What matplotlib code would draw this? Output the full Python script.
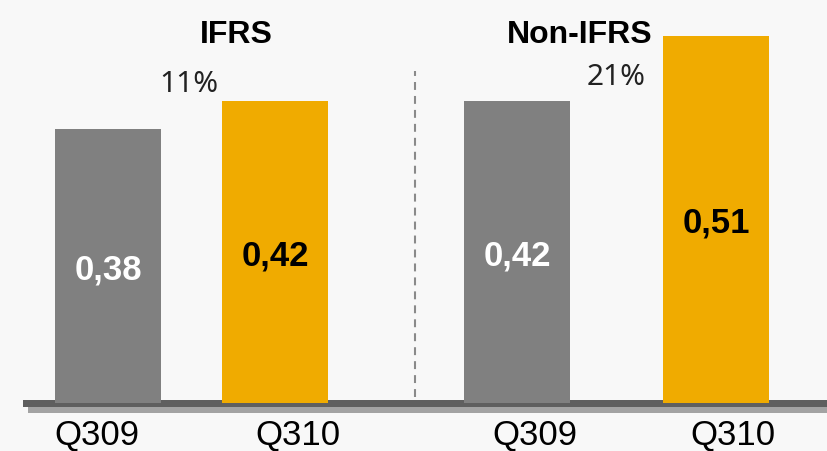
import matplotlib
matplotlib.use('Agg')
import matplotlib.pyplot as plt
import matplotlib.transforms as mtransforms
from matplotlib.patches import Rectangle

# data
groups = ['IFRS', 'Non-IFRS']
quarters = ['Q309', 'Q310', 'Q309', 'Q310']
eps = [0.38, 0.42, 0.42, 0.51]
growth = ['11%', '21%']

# layout (pixel-like x units)
bar_x = [108, 275, 517, 716]
bar_w = 106
tick_x = [97, 298, 535, 733]
group_x = [236, 580]
growth_pos = [(189, 92), (616, 85)]

bg = '#f8f8f8'
colors = ['#808080', '#f0ab00', '#808080', '#f0ab00']
label_colors = ['white', 'black', 'white', 'black']

W, H = 828, 452
fig = plt.figure(figsize=(W / 100, H / 100), dpi=100, facecolor=bg)
ax = fig.add_axes([0, 0, 1, 1])
ax.set_facecolor(bg)
ax.set_axis_off()

px_per_unit = 720
base_px = 48  # bar bottom, pixels from bottom
ax.set_xlim(0, W)
ax.set_ylim(-base_px / px_per_unit, (H - base_px) / px_per_unit)

# base line with shadow
ax.add_patch(Rectangle((28 / W, 38 / H), 1, 7 / H, transform=ax.transAxes,
                       color='#a3a3a3', lw=0, zorder=1))
ax.add_patch(Rectangle((23 / W, 44 / H), 1, 7 / H, transform=ax.transAxes,
                       color='#5f5f5f', lw=0, zorder=2))

ax.bar(bar_x, eps, width=bar_w, color=colors, zorder=3)

# separator
ax.plot([415, 415], [1 - 398 / H, 1 - 72 / H], transform=ax.get_xaxis_transform(),
        color='#8a8a8a', lw=1.5, linestyle=(0, (3.8, 2.9)), zorder=2)

fam = ['Liberation Sans', 'DejaVu Sans']
off = mtransforms.offset_copy(ax.transData, fig=fig, x=0, y=-9, units='points')
for x, v, c in zip(bar_x, eps, label_colors):
    ax.text(x, v / 2, f'{v:.2f}'.replace('.', ','), transform=off, ha='center',
            va='baseline', fontsize=25, fontweight='bold', color=c, family=fam, zorder=4)

xax = ax.get_xaxis_transform()
for x, q in zip(tick_x, quarters):
    ax.text(x, 1 - 445 / H, q, transform=xax, ha='center', va='baseline',
            fontsize=25, color='black', family=fam)

for x, g in zip(group_x, groups):
    ax.text(x, 1 - 43 / H, g, transform=xax, ha='center', va='baseline',
            fontsize=23, fontweight='bold', color='black', family=fam)

for (x, y), g in zip(growth_pos, growth):
    ax.text(x, 1 - y / H, g, transform=xax, ha='center', va='baseline',
            fontsize=21.5, color='#222222', fontweight='light',
            family=['Noto Sans', 'DejaVu Sans'])

fig.savefig('out.png', dpi=100, facecolor=bg)
